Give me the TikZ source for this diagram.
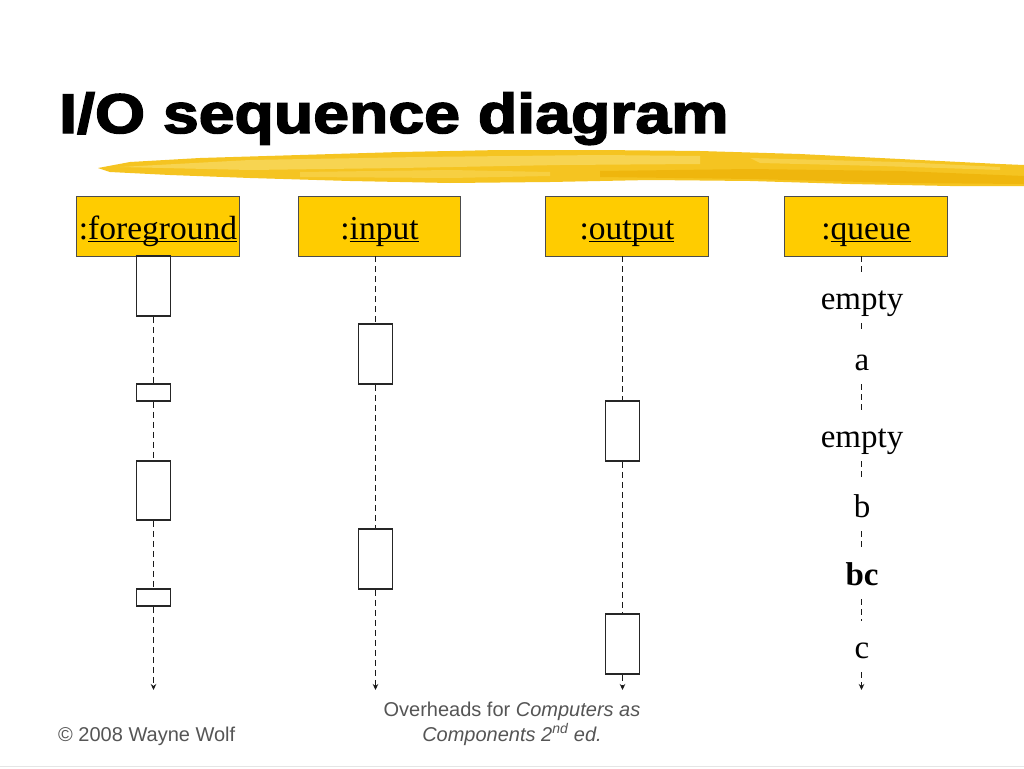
\documentclass[tikz,border=0pt]{standalone}
\usepackage{fontspec}
\usepackage{graphicx}
\usetikzlibrary{arrows.meta}
\setmainfont{Liberation Serif}
\newfontfamily\titlefont{Liberation Sans}[BoldFeatures={FakeBold=2.5}]
\newfontfamily\footfont{Liberation Sans}
\definecolor{hdryellow}{HTML}{FFCC00}
\definecolor{brushA}{HTML}{F5C421}
\definecolor{brushL}{HTML}{F9DA62}
\definecolor{brushD}{HTML}{EBAE00}
\definecolor{footgray}{HTML}{555555}
\newcommand\ulw[1]{\setbox0=\hbox{#1}\rlap{\rule[-3pt]{\wd0}{1.2pt}}\box0}
\tikzset{
  hdr/.style={draw=black!70, line width=0.9pt, fill=hdryellow, minimum width=162.5pt,
    minimum height=60pt, inner sep=0pt, text height=30pt, text depth=4pt,
    font=\fontsize{33.5}{36}\selectfont},
  act/.style={draw=black!85, line width=1.6pt, fill=white, minimum width=34pt, inner sep=0pt},
  life/.style={line width=1.7pt, dash pattern=on 6pt off 4pt, black!90},
  lifeend/.style={life, -{Stealth[length=6pt,width=5.5pt]}},
  qlab/.style={font=\fontsize{33}{36}\selectfont, text height=31pt, text depth=8pt,
    inner xsep=2pt, inner ysep=6pt, anchor=base},
  foot/.style={inner sep=0pt, text=footgray, font=\footfont\fontsize{20}{24}\selectfont}
}
\begin{document}
\begin{tikzpicture}[x=1pt,y=-1pt]
\useasboundingbox[fill=white] (0,0) rectangle (1024,768);
% brush stroke
\fill[brushA] (98,168) -- (130,162) -- (200,158) -- (300,155) -- (400,152) -- (500,150)
  -- (600,150) -- (700,151) -- (800,154) -- (900,159) -- (1000,164) -- (1024,165)
  -- (1024,186) -- (950,186) -- (850,184) -- (750,181) -- (650,180) -- (550,182)
  -- (450,183) -- (350,181) -- (250,178) -- (170,175) -- (110,172) -- cycle;
\fill[brushL, opacity=0.75] (120,167) -- (250,160) -- (420,157) -- (600,155) -- (700,156)
  -- (700,164) -- (560,165) -- (400,168) -- (250,170) -- cycle;
\fill[brushL, opacity=0.5] (300,172) -- (450,170) -- (550,172) -- (550,176) -- (450,178) -- (300,177) -- cycle;
\fill[brushD, opacity=0.6] (600,171) -- (750,169) -- (900,171) -- (1024,176) -- (1024,184)
  -- (900,183) -- (750,179) -- (600,177) -- cycle;
\fill[brushL, opacity=0.6] (750,158) -- (900,162) -- (1000,167) -- (1000,170) -- (880,166) -- (760,163) -- cycle;
% title
\node[anchor=base west, inner sep=0pt] (title) at (59,133)
  {\titlefont\bfseries\fontsize{56}{60}\selectfont\scalebox{1.15}[1]{I/O sequence diagram}};
% headers
\node[hdr] (hf) at (158,226) {:\ulw{foreground}};
\node[hdr] (hi) at (379.5,226) {:\ulw{input}};
\node[hdr] (ho) at (627,226) {:\ulw{output}};
\node[hdr] (hq) at (866,226) {:\ulw{queue}};
% activations
\node[act, minimum height=60pt] (f1) at (153.5,286) {};
\node[act, minimum height=17pt] (f2) at (153.5,392.5) {};
\node[act, minimum height=59pt] (f3) at (153.5,490.5) {};
\node[act, minimum height=17pt] (f4) at (153.5,597.5) {};
\node[act, minimum height=60pt] (i1) at (375.5,354) {};
\node[act, minimum height=60pt] (i2) at (375.5,559) {};
\node[act, minimum height=60pt] (o1) at (622.5,431) {};
\node[act, minimum height=60pt] (o2) at (622.5,644) {};
\coordinate (fe) at (153.5,690);
\coordinate (ie) at (375.5,690);
\coordinate (oe) at (622.5,690);
\coordinate (qe) at (861.5,690);
% queue states
\node[qlab] (q1) at (862,309) {empty};
\node[qlab] (q2) at (862,370) {a};
\node[qlab] (q3) at (862,447) {empty};
\node[qlab] (q4) at (862,517) {b};
\node[qlab] (q5) at (862,585) {\bfseries bc};
\node[qlab] (q6) at (862,658) {c};
% lifelines foreground
\draw[life] (f1.south) -- (f2.north);
\draw[life] (f2.south) -- (f3.north);
\draw[life] (f3.south) -- (f4.north);
\draw[lifeend] (f4.south) -- (fe);
% input
\draw[life] (i1.north |- hi.south) -- (i1.north);
\draw[life] (i1.south) -- (i2.north);
\draw[lifeend] (i2.south) -- (ie);
% output
\draw[life] (o1.north |- ho.south) -- (o1.north);
\draw[life] (o1.south) -- (o2.north);
\draw[lifeend] (o2.south) -- (oe);
% queue
\draw[life] (qe |- hq.south) -- (qe |- q1.north);
\draw[life] (qe |- q1.south) -- (qe |- q2.north);
\draw[life] (qe |- q2.south) -- (qe |- q3.north);
\draw[life] (qe |- q3.south) -- (qe |- q4.north);
\draw[life] (qe |- q4.south) -- (qe |- q5.north);
\draw[life] (qe |- q5.south) -- (qe |- q6.north);
\draw[lifeend] (qe |- q6.south) -- (qe);
% footer
\node[foot, anchor=base west] (copy) at (58,741) {© 2008 Wayne Wolf};
\node[foot, anchor=base] (ov1) at (512,716) {Overheads for \textit{Computers as}};
\node[foot, anchor=base] (ov2) at (512,741) {\textit{Components 2\textsuperscript{nd} ed.}};
\draw[black!10, line width=1pt] (0,766) -- (1024,766);
\end{tikzpicture}
\end{document}
